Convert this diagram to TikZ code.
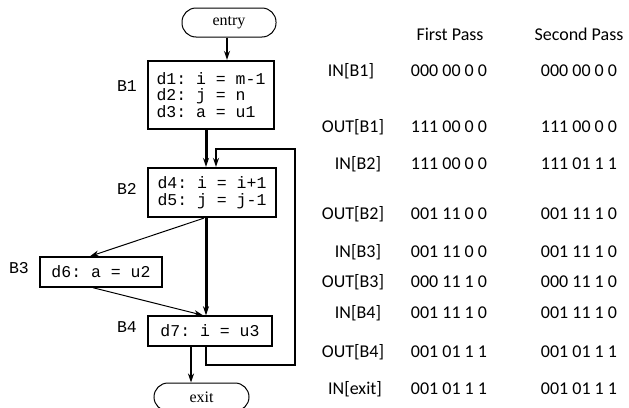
\documentclass[tikz,border=0pt]{standalone}
\usepackage{fontspec}
\setmainfont{Liberation Serif}
\setmonofont{Liberation Mono}
\setsansfont{Carlito}
\usetikzlibrary{arrows.meta}
\tikzset{
  blk/.style={draw, black, line width=2.2pt, font=\ttfamily\fontsize{16.5}{16.5}\selectfont, align=left, inner sep=0pt},
  blkthin/.style={blk, line width=1.4pt},
  term/.style={draw, black, line width=1pt, rounded corners=14pt, font=\fontsize{16}{16}\selectfont, inner sep=0pt},
  blab/.style={font=\ttfamily\fontsize{16.5}{16.5}\selectfont},
  cell/.style={font=\sffamily\fontsize{18}{18}\selectfont},
  arr/.style={-{Stealth[length=9pt,width=6pt]}},
}
\begin{document}
\begin{tikzpicture}[x=1pt, y=-1pt]
        \useasboundingbox[fill=white] (0,0) rectangle (629,407);
        % flow graph
        \node[term, minimum width=94pt, minimum height=29pt] (entry) at (229,22.5) {entry};
        \node[blk, minimum width=126pt, minimum height=68pt] (B1) at (211,95) {d1: i = m-1\\d2: j = n\\d3: a = u1};
        \node[blk, minimum width=128pt, minimum height=49pt] (B2) at (212,192.5) {d4: i = i+1\\d5: j = j-1};
        \node[blkthin, minimum width=122pt, minimum height=30pt] (B3) at (101,272) {d6: a = u2};
        \node[blkthin, minimum width=124pt, minimum height=30pt] (B4) at (210,331) {d7: i = u3};
        \node[term, minimum width=95pt, minimum height=28pt] (exit) at (201.5,397) {exit};
        \node[blab] (lb1) at (127,86) {B1};
        \node[blab] (lb2) at (127,189) {B2};
        \node[blab] (lb3) at (19,268) {B3};
        \node[blab] (lb4) at (127,327) {B4};
        \coordinate (loopR) at (295,149);
        \draw[arr, line width=1.8pt] ([xshift=-2pt]entry.south) -- ([xshift=-2pt]entry.south |- B1.north);
        \draw[arr, line width=3pt] ([xshift=-5pt]B1.south) -- ([xshift=-5pt]B1.south |- B2.north);
        \draw[arr, line width=2.2pt] ([xshift=-4pt]B4.south) -- ++(0,18) -| (loopR) -| ([xshift=4pt]B2.north);
        \draw[arr, line width=3pt] ([xshift=-6pt]B2.south) -- ([xshift=-6pt]B2.south |- B4.north);
        \draw[arr, line width=1pt] ([xshift=-8pt]B2.south) -- ([xshift=-11pt]B3.north);
        \draw[arr, line width=1pt] ([xshift=-8pt]B3.south) -- ([xshift=-7pt]B4.north);
        \draw[arr, line width=1.8pt] ([xshift=-19pt]B4.south) -- ([xshift=-19pt]B4.south |- exit.north);
        % table
        \node[cell] (hd1) at (450,34) {First Pass};
        \node[cell] (hd2) at (579,34) {Second Pass};
        \foreach \lx/\y/\lab/\fst/\snd [count=\i] in {
            351/71/IN[B1]/000 00 0 0/000 00 0 0,
            353/127/OUT[B1]/111 00 0 0/111 00 0 0,
            358/164/IN[B2]/111 00 0 0/111 01 1 1,
            353/214/OUT[B2]/001 11 0 0/001 11 1 0,
            358/252/IN[B3]/001 11 0 0/001 11 1 0,
            353/282/OUT[B3]/000 11 1 0/000 11 1 0,
            358/313/IN[B4]/001 11 1 0/001 11 1 0,
            353/352/OUT[B4]/001 01 1 1/001 01 1 1,
            355/389/IN[exit]/001 01 1 1/001 01 1 1} {
          \node[cell] (lab\i) at (\lx,\y) {\lab};
          \node[cell] (fst\i) at (449,\y) {\fst};
          \node[cell] (snd\i) at (579,\y) {\snd};
        }
    \end{tikzpicture}
\end{document}
